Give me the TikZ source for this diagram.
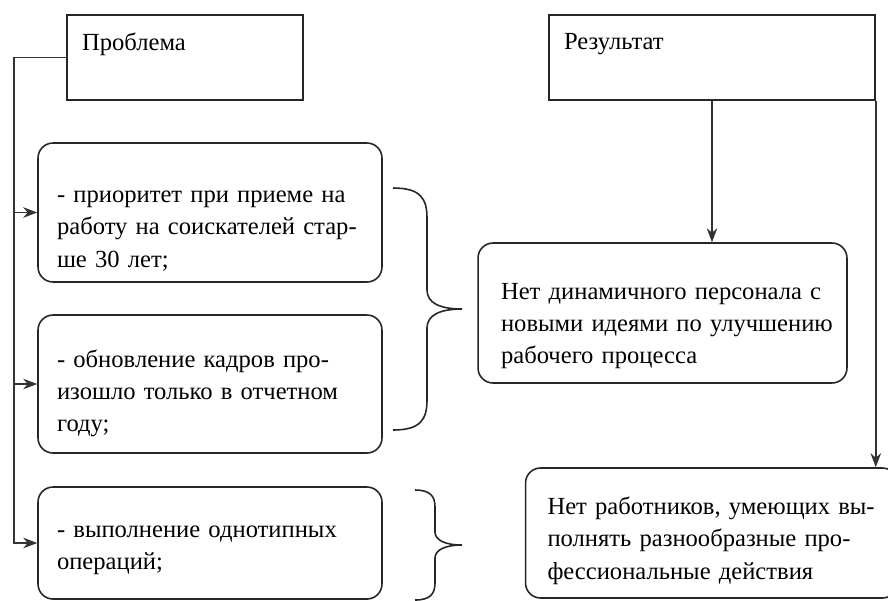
\documentclass[tikz,border=0pt]{standalone}
\usepackage{fontspec}
\setmainfont{LiberationSerif-Regular.ttf}
\usetikzlibrary{arrows.meta}

\newcommand{\jline}[1]{\makebox[\linewidth][s]{#1}\\}

\tikzset{
  headbox/.style={draw=black!85, line width=0.9pt, rectangle, align=left, inner xsep=0.3cm,
                  minimum height=1.7cm, font=\rmfamily\fontsize{14pt}{18.4pt}\selectfont},
  itembox/.style={draw=black!85, line width=0.9pt, rectangle, rounded corners=0.3cm, align=left,
                  font=\rmfamily\fontsize{14pt}{18.4pt}\selectfont},
  arr/.style={draw=black!80, line width=0.9pt, -{Stealth[length=8pt, width=6pt]}},
  bracepath/.style={draw=black!85, line width=0.9pt},
}

\begin{document}
\begin{tikzpicture}[x=0.02cm, y=-0.02cm]
	\useasboundingbox (0,0) rectangle (888,600);

	\node[headbox, text width=4.12cm] (prob) at (185, 57.5) {Проблема\\\mbox{}};
	\node[headbox, text width=5.92cm] (res)  at (712, 57.5) {Результат\\\mbox{}};

	\node[itembox, text width=6.12cm, inner xsep=0.38cm, minimum height=2.78cm, text height=27.6pt] (a) at (210, 212.5)
		{\strut\jline{- приоритет при приеме на}\jline{работу на соискателей стар-}ше 30 лет;};
	\node[itembox, text width=6.12cm, inner xsep=0.38cm, minimum height=2.76cm, text height=20.8pt] (b) at (210, 384)
		{\strut\jline{- обновление кадров про-}\jline{изошло только в отчетном}году;};
	\node[itembox, text width=6.12cm, inner xsep=0.38cm, minimum height=2.24cm, text height=15.2pt] (c) at (210, 543)
		{\strut\jline{- выполнение однотипных}операций;};

	\node[itembox, text width=6.46cm, inner xsep=0.46cm, minimum height=2.8cm, text height=24.2pt] (d) at (662.5, 313)
		{\strut\jline{Нет динамичного персонала с}\jline{новыми идеями по улучшению}рабочего процесса};
	\node[itembox, text width=6.56cm, inner xsep=0.44cm, minimum height=2.6cm, text height=18.6pt] (e) at (711.5, 533)
		{\strut\jline{Нет работников, умеющих вы-}\jline{полнять разнообразные про-}фессиональные действия};

	% left trunk
	\draw[arr] (prob.west) -- ++(-52,0) coordinate (trunk) |- (c.west);
	\draw[arr] (trunk |- a.west) -- (a.west);
	\draw[arr] (trunk |- b.west) -- (b.west);

	% right side
	\draw[arr] (res.south) -- (res.south |- d.north);
	\draw[arr] (res.south east) -- (res.south east |- e.north);

	% braces
	\draw[bracepath] (393,188) .. controls (420,188) and (427,198) .. (427,218) -- (427,290)
		.. controls (427,303) and (440,309) .. (462,309)
		.. controls (440,309) and (427,315) .. (427,328) -- (427,400)
		.. controls (427,420) and (420,430) .. (393,430);
	\draw[bracepath] (415,490) .. controls (430,490) and (435,496) .. (435,507) -- (435,532)
		.. controls (435,540) and (445,545) .. (462,545)
		.. controls (445,545) and (435,550) .. (435,558) -- (435,583)
		.. controls (435,594) and (430,600) .. (415,600);
\end{tikzpicture}
\end{document}
